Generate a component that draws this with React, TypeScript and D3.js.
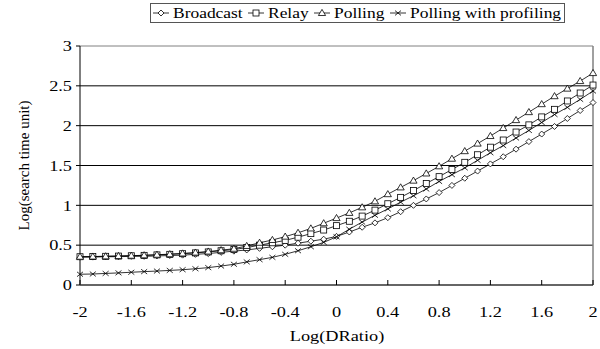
import React from "react";
import * as d3 from "d3";

const xValues = [-2.0, -1.9, -1.8, -1.7, -1.6, -1.5, -1.4, -1.3, -1.2, -1.1, -1.0, -0.9, -0.8, -0.7, -0.6, -0.5, -0.4, -0.3, -0.2, -0.1, 0.0, 0.1, 0.2, 0.3, 0.4, 0.5, 0.6, 0.7, 0.8, 0.9, 1.0, 1.1, 1.2, 1.3, 1.4, 1.5, 1.6, 1.7, 1.8, 1.9, 2.0];

const broadcast = [0.35, 0.35, 0.355, 0.355, 0.36, 0.36, 0.365, 0.37, 0.375, 0.385, 0.395, 0.41, 0.425, 0.44, 0.46, 0.48, 0.5, 0.525, 0.55, 0.575, 0.61, 0.665, 0.725, 0.78, 0.845, 0.92, 1.0, 1.08, 1.16, 1.25, 1.34, 1.43, 1.52, 1.61, 1.705, 1.8, 1.895, 1.99, 2.09, 2.19, 2.29];
const relay = [0.355, 0.357, 0.36, 0.363, 0.367, 0.372, 0.378, 0.385, 0.393, 0.403, 0.415, 0.43, 0.445, 0.47, 0.5, 0.53, 0.56, 0.6, 0.645, 0.69, 0.745, 0.8, 0.865, 0.94, 1.02, 1.1, 1.185, 1.275, 1.36, 1.45, 1.54, 1.635, 1.73, 1.82, 1.92, 2.01, 2.11, 2.205, 2.31, 2.41, 2.51];
const polling = [0.355, 0.357, 0.36, 0.364, 0.368, 0.373, 0.38, 0.387, 0.396, 0.407, 0.42, 0.437, 0.455, 0.49, 0.53, 0.565, 0.607, 0.655, 0.71, 0.775, 0.84, 0.905, 0.975, 1.05, 1.14, 1.225, 1.31, 1.4, 1.49, 1.585, 1.68, 1.775, 1.87, 1.97, 2.07, 2.17, 2.27, 2.37, 2.465, 2.56, 2.66];
const profiling = [0.135, 0.138, 0.145, 0.152, 0.16, 0.168, 0.175, 0.183, 0.192, 0.204, 0.218, 0.238, 0.26, 0.29, 0.318, 0.347, 0.385, 0.43, 0.48, 0.535, 0.605, 0.7, 0.79, 0.875, 0.955, 1.04, 1.12, 1.205, 1.3, 1.385, 1.47, 1.565, 1.66, 1.75, 1.845, 1.94, 2.04, 2.14, 2.23, 2.33, 2.435];

const seriesNames = ["Broadcast", "Relay", "Polling", "Polling with profiling"];
const seriesMarkers = ["diamond", "square", "triangle", "cross"];
const xTicks = [-2, -1.6, -1.2, -0.8, -0.4, 0, 0.4, 0.8, 1.2, 1.6, 2];
const yTicks = [0, 0.5, 1, 1.5, 2, 2.5, 3];

const W = 600, H = 349;
const L = 80, R = 593, T = 46, B = 285;
const FONT = "Liberation Serif, DejaVu Serif, serif";
const SX = 1.22;

function Marker({ type, x, y }: { type: string; x: number; y: number }) {
  if (type === "diamond") {
    const r = 3;
    return <path d={`M${x},${y - r}L${x + r},${y}L${x},${y + r}L${x - r},${y}Z`} fill="#fff" stroke="#000" strokeWidth={0.8} />;
  }
  if (type === "square") {
    const r = 3;
    return <rect x={x - r} y={y - r} width={2 * r} height={2 * r} fill="#fff" stroke="#000" strokeWidth={0.8} />;
  }
  if (type === "triangle") {
    const r = 3.6;
    return <path d={`M${x},${y - r}L${x + r},${y + r * 0.7}L${x - r},${y + r * 0.7}Z`} fill="#fff" stroke="#000" strokeWidth={0.8} />;
  }
  const r = 3;
  return <path d={`M${x - r},${y - r * 0.8}L${x + r},${y + r * 0.8}M${x + r},${y - r * 0.8}L${x - r},${y + r * 0.8}`} stroke="#000" strokeWidth={0.8} fill="none" />;
}

function Txt({ x, y, anchor, size, children, rotate }: { x: number; y: number; anchor: string; size: number; children: React.ReactNode; rotate?: boolean }) {
  const tf = rotate ? `translate(${x},${y}) rotate(-90)` : `translate(${x},${y}) scale(${SX},1)`;
  return (
    <text transform={tf} textAnchor={anchor} dy="0.35em" fontSize={size} style={{ fontFamily: FONT }}>{children}</text>
  );
}

export default function App() {
  const x = d3.scaleLinear().domain([-2, 2]).range([L, R]);
  const y = d3.scaleLinear().domain([0, 3]).range([B, T]);
  const allSeries = [broadcast, relay, polling, profiling];
  const line = d3.line<number>().x((_, i) => x(xValues[i])).y((d) => y(d));

  const legendCenters = [161, 256, 322, 398];

  return (
    <svg width={W} height={H} style={{ position: "absolute", left: 0, top: 0, background: "#fff" }}>
      <rect x={0} y={0} width={W} height={H} fill="#fff" />
      {yTicks.filter((t) => t > 0 && t < 3).map((t) => (
        <line key={t} x1={L} x2={R} y1={y(t)} y2={y(t)} stroke="#000" strokeWidth={1} />
      ))}
      <line x1={L} x2={R} y1={T} y2={T} stroke="#808080" strokeWidth={1} />
      <line x1={R} x2={R} y1={T} y2={B} stroke="#808080" strokeWidth={1.5} />
      <line x1={L} x2={L} y1={T} y2={B} stroke="#000" strokeWidth={1} />
      <line x1={L} x2={R} y1={B} y2={B} stroke="#666" strokeWidth={2} />
      {yTicks.map((t) => (
        <g key={t}>
          <line x1={L - 4} x2={L} y1={y(t)} y2={y(t)} stroke="#000" />
          <Txt x={72} y={y(t)} anchor="end" size={15}>{t}</Txt>
        </g>
      ))}
      {xTicks.map((t) => (
        <g key={t}>
          <line x1={x(t)} x2={x(t)} y1={B} y2={B - 5} stroke="#000" />
          <Txt x={x(t)} y={312} anchor="middle" size={15}>{t}</Txt>
        </g>
      ))}
      <Txt x={337} y={336} anchor="middle" size={15}>Log(DRatio)</Txt>
      <Txt x={24} y={(T + B) / 2} anchor="middle" size={15} rotate>Log(search time unit)</Txt>
      {allSeries.map((s, si) => (
        <g key={si}>
          <path d={line(s) || ""} fill="none" stroke="#000" strokeWidth={0.8} />
          {s.map((v, i) => (
            <Marker key={i} type={seriesMarkers[si]} x={x(xValues[i])} y={y(v)} />
          ))}
        </g>
      ))}
      <rect x={150.5} y={3.5} width={414} height={19} fill="#fff" stroke="#555" strokeWidth={1} />
      {seriesNames.map((n, i) => (
        <g key={n}>
          <line x1={legendCenters[i] - 8} x2={legendCenters[i] + 8} y1={13} y2={13} stroke="#000" strokeWidth={0.8} />
          <Marker type={seriesMarkers[i]} x={legendCenters[i]} y={13} />
          <Txt x={legendCenters[i] + 12} y={13} anchor="start" size={14.3}>{n}</Txt>
        </g>
      ))}
    </svg>
  );
}
